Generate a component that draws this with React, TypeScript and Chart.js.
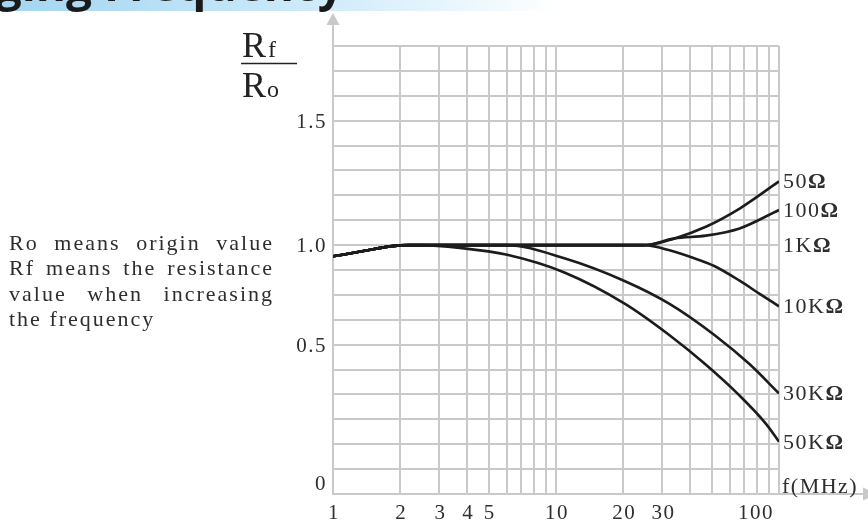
import React, { useEffect, useRef } from "react";
import { Chart, registerables } from "chart.js";

Chart.register(...registerables);

// ---------- data ----------
const xGridValues = [1, 2, 3, 4, 5, 6, 7, 8, 9, 10, 20, 30, 40, 50, 60, 70, 80, 90, 100];
const yGridValues = [0, 0.1, 0.2, 0.3, 0.4, 0.5, 0.6, 0.7, 0.8, 0.9, 1.0, 1.1, 1.2, 1.3, 1.4, 1.5, 1.6, 1.7, 1.8];

const xTickValues = [1, 2, 3, 4, 5, 10, 20, 30, 100];
const xTickLabels = ["1", "2", "3", "4", "5", "10", "20", "30", "100"];

const yTickValues = [1.5, 1.0, 0.6, 0.045];
const yTickLabels = ["1.5", "1.0", "0.5", "0"];

const seriesNames = ["50Ω", "100Ω", "1KΩ", "10KΩ", "30KΩ", "50KΩ"];

// shared low-frequency part (MHz, Rf/Ro)
const baseFreq = [1, 1.35, 1.8, 2.2];
const baseRatio = [0.955, 0.975, 0.995, 1.0];

const ohm50Freq = [25, 34, 47, 66.6, 100];
const ohm50Ratio = [1.0, 1.027, 1.074, 1.147, 1.256];

const ohm100Freq = [25, 34, 47, 66.6, 100];
const ohm100Ratio = [1.0, 1.027, 1.038, 1.067, 1.141];

const k1Freq = [25];
const k1Ratio = [1.0];

const k10Freq = [25, 32.3, 44.1, 51.5, 66.6, 81.9, 100];
const k10Ratio = [1.0, 0.979, 0.939, 0.915, 0.857, 0.804, 0.754];

const k30Freq = [6, 10.9, 20.4, 32.3, 51.5, 73.9, 100];
const k30Ratio = [1.0, 0.947, 0.855, 0.764, 0.638, 0.521, 0.404];

const k50Freq = [2.5, 3.7, 6.04, 10.9, 20.4, 32.3, 46.2, 66.6, 87.8, 100];
const k50Ratio = [1.0, 0.989, 0.961, 0.89, 0.764, 0.638, 0.525, 0.395, 0.28, 0.21];

const seriesFreq = [ohm50Freq, ohm100Freq, k1Freq, k10Freq, k30Freq, k50Freq];
const seriesRatio = [ohm50Ratio, ohm100Ratio, k1Ratio, k10Ratio, k30Ratio, k50Ratio];

const titleText = "Resistance Changing Frequency";
const xAxisName = "f(MHz)";
const noteLines = [
  "Ro means origin value",
  "Rf means the resistance",
  "value when increasing",
  "the frequency",
];

// ---------- styles ----------
const GRID = "#c9c9c9";
const INK = "#1c1c1c";
const TEXT = "#2e2e2e";
const SERIF = '"Liberation Serif", "DejaVu Serif", serif';

function setSpacing(ctx: any, px: number) {
  try {
    ctx.letterSpacing = px + "px";
  } catch (e) {}
}

const decorPlugin = {
  id: "decor",
  beforeDraw(chart: any) {
    const ctx = chart.ctx as CanvasRenderingContext2D;
    ctx.save();
    const g = ctx.createLinearGradient(0, 0, 560, 0);
    g.addColorStop(0, "#a3d5f0");
    g.addColorStop(0.45, "#c4e6f8");
    g.addColorStop(0.75, "#e2f3fc");
    g.addColorStop(1, "rgba(255,255,255,1)");
    ctx.fillStyle = g;
    ctx.fillRect(0, 0, chart.width, 11);
    ctx.font = 'bold 46px "Open Sans", sans-serif';
    ctx.fillStyle = "#1a1a1a";
    ctx.textBaseline = "alphabetic";
    ctx.textAlign = "left";
    const pre = "Resistance Changing ";
    const x0 = 104 - ctx.measureText(pre).width;
    ctx.fillText(titleText, x0, 1);
    ctx.restore();
  },
  afterDraw(chart: any) {
    const ctx = chart.ctx as CanvasRenderingContext2D;
    const area = chart.chartArea;
    const xs = chart.scales.x;
    const ys = chart.scales.y;
    ctx.save();

    // axis arrows
    ctx.strokeStyle = GRID;
    ctx.fillStyle = GRID;
    ctx.lineWidth = 2;
    ctx.beginPath();
    ctx.moveTo(area.left, area.top);
    ctx.lineTo(area.left, 22);
    ctx.stroke();
    ctx.beginPath();
    ctx.moveTo(area.left, 13);
    ctx.lineTo(area.left - 6.5, 25);
    ctx.lineTo(area.left + 6.5, 25);
    ctx.closePath();
    ctx.fill();

    ctx.beginPath();
    ctx.moveTo(area.right, area.bottom);
    ctx.lineTo(864, area.bottom);
    ctx.stroke();
    ctx.beginPath();
    ctx.moveTo(877, area.bottom);
    ctx.lineTo(863, area.bottom - 6.5);
    ctx.lineTo(863, area.bottom + 6.5);
    ctx.closePath();
    ctx.fill();

    ctx.fillStyle = TEXT;
    ctx.textBaseline = "alphabetic";

    // y tick labels
    ctx.font = "21px " + SERIF;
    setSpacing(ctx, 1.5);
    ctx.textAlign = "right";
    yTickValues.forEach((v, i) => {
      ctx.fillText(yTickLabels[i], area.left - 6, ys.getPixelForValue(v) + 7);
    });

    // x tick labels
    xTickValues.forEach((v, i) => {
      const px = xs.getPixelForValue(v);
      if (i === xTickValues.length - 1) {
        ctx.textAlign = "right";
        ctx.fillText(xTickLabels[i], px - 5, area.bottom + 25);
      } else {
        ctx.textAlign = "center";
        ctx.fillText(xTickLabels[i], px + 1, area.bottom + 25);
      }
    });

    // series labels at right end
    setSpacing(ctx, 1.5);
    ctx.textAlign = "left";
    seriesNames.forEach((name, i) => {
      const r = seriesRatio[i];
      const py = ys.getPixelForValue(r[r.length - 1]) + 7;
      const px = area.right + 4;
      const pre = name.replace("Ω", "");
      ctx.font = "22px " + SERIF;
      ctx.fillText(pre, px, py);
      const w = ctx.measureText(pre).width;
      ctx.font = "bold 22px " + SERIF;
      ctx.fillText("Ω", px + w, py);
    });
    ctx.font = "22px " + SERIF;
    ctx.fillText(xAxisName, area.right + 3, area.bottom - 1);

    // Rf / Ro fraction
    setSpacing(ctx, 0);
    ctx.fillStyle = "#222";
    ctx.font = "36px " + SERIF;
    ctx.fillText("R", 242, 57);
    const wR = ctx.measureText("R").width;
    ctx.font = "24px " + SERIF;
    ctx.fillText("f", 242 + wR + 2, 57);
    ctx.font = "36px " + SERIF;
    ctx.fillText("R", 242, 97);
    ctx.font = "24px " + SERIF;
    ctx.fillText("o", 242 + wR + 1, 97);
    ctx.strokeStyle = "#222";
    ctx.lineWidth = 1.4;
    ctx.beginPath();
    ctx.moveTo(241, 63.5);
    ctx.lineTo(297, 63.5);
    ctx.stroke();

    // explanatory note, justified
    ctx.fillStyle = TEXT;
    ctx.font = "22px " + SERIF;
    setSpacing(ctx, 2);
    ctx.textAlign = "left";
    const left = 9;
    const right = 274;
    noteLines.forEach((line, i) => {
      const y = 250 + i * 25.3;
      const words = line.split(" ");
      if (i === noteLines.length - 1 || words.length < 2) {
        ctx.fillText(line, left, y);
        return;
      }
      const ws = words.map((w) => ctx.measureText(w).width);
      const total = ws.reduce((a, b) => a + b, 0);
      const gap = (right - left - total) / (words.length - 1);
      let cx = left;
      words.forEach((w, j) => {
        ctx.fillText(w, cx, y);
        cx += ws[j] + gap;
      });
    });

    ctx.restore();
  },
};

export default function App() {
  const ref = useRef<HTMLCanvasElement>(null);
  useEffect(() => {
    if (!ref.current) return;
    const datasets = seriesNames.map((name, i) => {
      const f = baseFreq.concat(seriesFreq[i]);
      const r = baseRatio.concat(seriesRatio[i]);
      return {
        label: name,
        data: f.map((x, j) => ({ x, y: r[j] })),
        borderColor: INK,
        borderWidth: 2.6,
        pointRadius: 0,
        fill: false,
        cubicInterpolationMode: "monotone" as const,
      };
    });
    const chart = new Chart(ref.current, {
      type: "line",
      data: { datasets },
      options: {
        responsive: false,
        animation: false,
        layout: { padding: { left: 333, right: 89, top: 46, bottom: 31 } },
        plugins: { legend: { display: false }, tooltip: { enabled: false } },
        scales: {
          x: {
            type: "logarithmic",
            min: 1,
            max: 100,
            afterBuildTicks: (s: any) => {
              s.ticks = xGridValues.map((v) => ({ value: v }));
            },
            ticks: { display: false },
            grid: { color: GRID, lineWidth: 2, drawTicks: false },
            border: { display: true, color: GRID, width: 2 },
          },
          y: {
            type: "linear",
            min: 0,
            max: 1.8,
            afterBuildTicks: (s: any) => {
              s.ticks = yGridValues.map((v) => ({ value: v }));
            },
            ticks: { display: false },
            grid: { color: GRID, lineWidth: 2, drawTicks: false },
            border: { display: true, color: GRID, width: 2 },
          },
        },
      } as any,
      plugins: [decorPlugin],
    });
    return () => chart.destroy();
  }, []);
  return (
    <div style={{ position: "fixed", left: 0, top: 0, width: 868, height: 525, background: "#fff" }}>
      <canvas ref={ref} width={868} height={525} style={{ display: "block", width: 868, height: 525 }} />
    </div>
  );
}
